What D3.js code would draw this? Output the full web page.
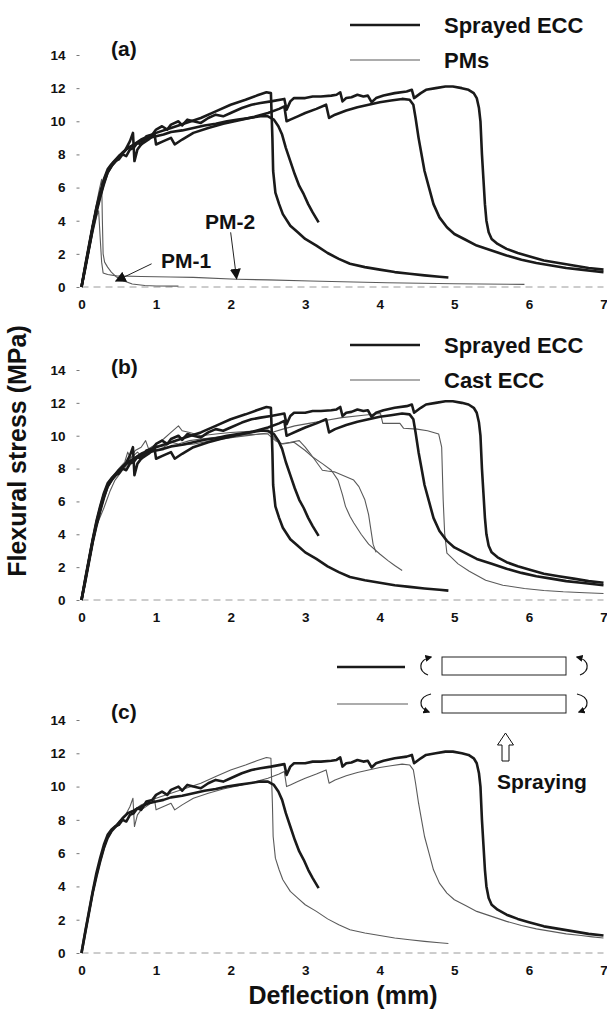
<!DOCTYPE html>
<html><head><meta charset="utf-8">
<script src="https://cdn.jsdelivr.net/npm/d3@7"></script>
<style>
html,body{margin:0;padding:0;background:#fff;}
svg{display:block;font-family:"Liberation Sans",Arial,sans-serif;}
</style></head>
<body><svg id="chart" width="607" height="1014"></svg>
<script>
// ---------- DATA ----------
const xTicks = [0,1,2,3,4,5,6,7];
const yTicks = [0,2,4,6,8,10,12,14];

// Sprayed ECC specimens (deflection mm, flexural stress MPa)
const sprayed1 = [[0,0],[0.05,1.2],[0.1,2.4],[0.15,3.6],[0.2,4.7],[0.25,5.6],[0.3,6.4],[0.35,7.0],[0.42,7.5],[0.5,7.9],[0.6,8.3],[0.7,8.6],[0.8,8.9],[0.9,9.1],[1.0,9.3],[1.2,9.6],[1.4,9.9],[1.6,10.2],[1.8,10.6],[2.0,11.0],[2.2,11.3],[2.35,11.55],[2.48,11.75],[2.54,11.7],[2.56,9.0],[2.57,7.0],[2.6,5.7],[2.65,5.0],[2.7,4.4],[2.8,3.7],[2.9,3.3],[3.0,2.9],[3.15,2.5],[3.3,2.05],[3.45,1.7],[3.6,1.4],[3.8,1.2],[4.0,1.05],[4.2,0.9],[4.4,0.8],[4.6,0.7],[4.8,0.62],[4.92,0.57]];
const sprayed2 = [[0,0],[0.05,1.2],[0.1,2.4],[0.15,3.6],[0.2,4.6],[0.25,5.5],[0.3,6.3],[0.35,6.9],[0.4,7.3],[0.48,7.7],[0.55,8.1],[0.62,8.4],[0.7,8.55],[0.8,8.8],[0.9,9.0],[1.0,9.1],[1.1,9.2],[1.2,9.35],[1.35,9.45],[1.5,9.6],[1.65,9.75],[1.8,9.85],[1.95,10.0],[2.1,10.1],[2.25,10.2],[2.4,10.3],[2.5,10.3],[2.58,10.1],[2.64,9.7],[2.69,9.2],[2.74,8.4],[2.8,7.6],[2.86,6.8],[2.92,6.1],[2.98,5.6],[3.04,5.0],[3.1,4.5],[3.18,3.9]];
const sprayed3 = [[0,0],[0.05,1.1],[0.1,2.3],[0.15,3.5],[0.2,4.5],[0.25,5.4],[0.3,6.2],[0.35,6.9],[0.42,7.4],[0.5,7.8],[0.58,8.2],[0.65,8.8],[0.69,9.3],[0.71,7.6],[0.75,8.3],[0.8,8.6],[0.9,8.9],[0.98,9.2],[1.0,8.6],[1.1,8.8],[1.2,9.0],[1.25,8.6],[1.35,8.9],[1.5,9.3],[1.7,9.6],[1.9,9.85],[2.1,10.05],[2.3,10.25],[2.5,10.5],[2.65,10.75],[2.72,10.9],[2.75,10.0],[2.8,10.1],[2.9,10.3],[3.0,10.5],[3.15,10.75],[3.28,11.0],[3.32,10.2],[3.4,10.4],[3.55,10.65],[3.7,10.85],[3.85,11.0],[4.0,11.15],[4.15,11.25],[4.3,11.35],[4.4,11.3],[4.45,11.0],[4.48,10.2],[4.52,9.0],[4.56,8.0],[4.6,7.0],[4.66,6.0],[4.72,5.0],[4.8,4.2],[4.9,3.6],[5.0,3.2],[5.15,2.85],[5.3,2.5],[5.5,2.2],[5.7,1.9],[5.9,1.65],[6.1,1.45],[6.3,1.3],[6.5,1.15],[6.7,1.05],[6.85,0.97],[7.0,0.9]];
const sprayed4 = [[0,0],[0.05,1.3],[0.1,2.5],[0.15,3.7],[0.2,4.8],[0.25,5.7],[0.3,6.5],[0.35,7.1],[0.4,7.4],[0.45,7.6],[0.5,7.7],[0.55,8.0],[0.6,7.9],[0.65,8.3],[0.7,8.4],[0.75,8.7],[0.8,8.6],[0.87,9.1],[0.95,9.2],[1.0,9.5],[1.08,9.7],[1.15,9.5],[1.2,9.8],[1.3,10.0],[1.35,9.75],[1.42,10.1],[1.5,10.0],[1.6,9.9],[1.7,10.2],[1.8,10.4],[1.9,10.3],[2.0,10.5],[2.15,10.8],[2.28,11.0],[2.4,11.1],[2.54,11.2],[2.72,11.35],[2.75,10.7],[2.8,11.2],[2.85,11.4],[3.0,11.4],[3.1,11.5],[3.21,11.5],[3.35,11.55],[3.42,11.6],[3.47,11.75],[3.5,11.2],[3.55,11.4],[3.62,11.45],[3.7,11.6],[3.78,11.5],[3.84,11.55],[3.89,11.15],[3.95,11.4],[4.05,11.55],[4.2,11.7],[4.36,11.8],[4.43,11.9],[4.46,11.4],[4.55,11.7],[4.62,11.9],[4.75,12.0],[4.88,12.1],[4.98,12.1],[5.1,12.0],[5.19,11.9],[5.26,11.7],[5.3,11.4],[5.33,10.8],[5.35,10.0],[5.37,8.0],[5.39,6.5],[5.41,5.0],[5.43,4.0],[5.46,3.3],[5.5,2.9],[5.58,2.6],[5.7,2.3],[5.85,2.05],[6.0,1.85],[6.2,1.6],[6.4,1.45],[6.6,1.3],[6.8,1.15],[7.0,1.05]];

// Plain mortar specimens
const pm1 = [[0,0],[0.05,1.2],[0.1,2.5],[0.15,3.8],[0.2,5.0],[0.24,5.9],[0.27,6.5],[0.28,4.0],[0.29,2.0],[0.31,1.5],[0.35,1.2],[0.4,0.9],[0.47,0.6],[0.55,0.4],[0.68,0.18],[0.85,0.09],[1.0,0.06],[1.3,0.05]];
const pm2 = [[0,0],[0.05,1.0],[0.1,2.1],[0.15,3.2],[0.2,4.2],[0.23,4.6],[0.25,3.0],[0.27,1.5],[0.29,0.85],[0.35,0.75],[0.47,0.67],[0.8,0.63],[1.2,0.6],[1.5,0.58],[2.08,0.47],[2.5,0.43],[3.07,0.36],[3.5,0.32],[4.1,0.26],[5.0,0.2],[5.94,0.16]];

// Cast ECC specimens
const cast1 = [[0,0],[0.05,1.2],[0.1,2.4],[0.15,3.6],[0.2,4.7],[0.25,5.6],[0.3,6.4],[0.35,7.0],[0.42,7.5],[0.5,8.0],[0.58,8.4],[0.62,9.0],[0.66,8.6],[0.72,9.1],[0.8,9.3],[0.86,9.7],[0.9,9.2],[1.0,9.5],[1.1,9.8],[1.2,10.2],[1.3,10.6],[1.35,10.3],[1.45,10.2],[1.6,10.0],[1.8,10.1],[2.0,10.2],[2.2,10.25],[2.4,10.3],[2.5,10.3],[2.58,9.9],[2.66,9.5],[2.8,9.6],[2.92,9.7],[3.0,9.3],[3.07,8.9],[3.15,8.4],[3.23,7.9],[3.3,7.85],[3.39,7.8],[3.5,7.6],[3.65,7.3],[3.72,6.9],[3.8,6.1],[3.85,5.2],[3.88,4.3],[3.91,3.4],[3.95,2.9]];
const cast2 = [[0,0],[0.05,1.1],[0.1,2.3],[0.15,3.5],[0.2,4.6],[0.25,5.5],[0.3,6.3],[0.35,6.9],[0.45,7.6],[0.55,8.2],[0.65,8.6],[0.75,9.0],[0.82,8.7],[0.9,9.2],[1.0,9.4],[1.1,9.3],[1.2,9.6],[1.3,9.5],[1.45,9.7],[1.6,9.8],[1.8,9.9],[2.0,10.0],[2.2,10.05],[2.4,10.1],[2.5,10.1],[2.6,9.7],[2.7,9.5],[2.85,9.6],[3.0,9.1],[3.1,8.7],[3.23,8.3],[3.35,7.9],[3.44,7.3],[3.5,6.4],[3.54,5.7],[3.6,5.1],[3.65,4.7],[3.75,4.0],[3.85,3.4],[4.0,2.8],[4.11,2.4],[4.2,2.1],[4.3,1.8]];
const cast3 = [[0,0],[0.05,1.2],[0.1,2.4],[0.15,3.6],[0.2,4.5],[0.3,5.6],[0.38,6.6],[0.45,7.3],[0.55,7.9],[0.65,8.4],[0.75,8.8],[0.85,9.0],[1.0,9.1],[1.15,9.3],[1.3,9.4],[1.51,9.5],[1.75,9.7],[2.03,9.9],[2.3,10.05],[2.55,10.2],[2.7,10.4],[2.86,10.6],[3.05,10.75],[3.23,10.9],[3.49,11.1],[3.78,11.25],[4.01,11.35],[4.04,10.75],[4.27,10.75],[4.32,10.45],[4.5,10.4],[4.64,10.3],[4.79,10.1],[4.83,9.3],[4.85,6.1],[4.87,4.05],[4.9,2.85],[5.05,2.2],[5.2,1.75],[5.42,1.2],[5.65,0.9],[5.94,0.7],[6.2,0.58],[6.46,0.5],[6.75,0.44],[7.0,0.4]];

// ---------- LAYOUT ----------
const svg = d3.select("#chart");
const x = d3.scaleLinear().domain([0,7]).range([81.5,603.5]);
const panels = [
  {id:"a", y0:287, y14:55, label:"(a)", labelY:56},
  {id:"b", y0:600, y14:370, label:"(b)", labelY:374},
  {id:"c", y0:953, y14:720, label:"(c)", labelY:719}
];
const THICK = {w:2.6, c:"#1a1a1a"};
const THIN = {w:1.1, c:"#5a5a5a"};
const FONT = "Liberation Sans, Arial, sans-serif";

panels.forEach(p => {
  p.y = d3.scaleLinear().domain([0,14]).range([p.y0,p.y14]);
  const g = svg.append("g");
  g.append("line").attr("x1",x(0)).attr("x2",x(7)).attr("y1",p.y(0)).attr("y2",p.y(0))
    .attr("stroke","#9a9a9a").attr("stroke-width",1).attr("stroke-dasharray","7,5");
  const ya = d3.axisLeft(p.y).tickValues(yTicks).tickFormat(d3.format("d")).tickSize(3).tickPadding(11);
  const gy = g.append("g").attr("transform",`translate(${x(0)-2},0)`).call(ya);
  gy.select(".domain").remove();
  gy.selectAll(".tick line").attr("stroke","#777");
  gy.selectAll(".tick text").attr("font-size",13.5).attr("font-weight","bold").attr("fill","#111")
    .attr("font-family",FONT);
  const xa = d3.axisBottom(x).tickValues(xTicks).tickFormat(d3.format("d")).tickSize(0).tickPadding(12);
  const gx = g.append("g").attr("transform",`translate(0,${p.y(0)})`).call(xa);
  gx.select(".domain").remove();
  gx.selectAll(".tick text").attr("font-size",13.5).attr("font-weight","bold").attr("fill","#111")
    .attr("font-family",FONT);
  g.append("text").attr("x",111).attr("y",p.labelY).text(p.label)
    .attr("font-size",21).attr("font-weight","bold").attr("fill","#111");
  p.g = g;
});

function drawCurve(p, data, style){
  const line = d3.line().x(d=>x(d[0])).y(d=>p.y(d[1]));
  p.g.append("path").datum(data).attr("d",line).attr("fill","none")
    .attr("stroke",style.c).attr("stroke-width",style.w).attr("stroke-linejoin","round");
}

const pa = panels[0];
[pm1,pm2].forEach(d=>drawCurve(pa,d,THIN));
[sprayed1,sprayed2,sprayed3,sprayed4].forEach(d=>drawCurve(pa,d,THICK));
const pb = panels[1];
[cast1,cast2,cast3].forEach(d=>drawCurve(pb,d,THIN));
[sprayed1,sprayed2,sprayed3,sprayed4].forEach(d=>drawCurve(pb,d,THICK));
const pc = panels[2];
[sprayed1,sprayed3].forEach(d=>drawCurve(pc,d,THIN));
[sprayed2,sprayed4].forEach(d=>drawCurve(pc,d,THICK));

// ---------- ANNOTATIONS ----------
const defs = svg.append("defs");
defs.append("marker").attr("id","tri").attr("viewBox","0 0 10 10").attr("refX",9).attr("refY",5)
  .attr("markerWidth",11).attr("markerHeight",11).attr("markerUnits","userSpaceOnUse").attr("orient","auto")
  .append("path").attr("d","M0,0 L10,5 L0,10 Z").attr("fill","#111");
defs.append("marker").attr("id","tri2").attr("viewBox","0 0 10 10").attr("refX",8).attr("refY",5)
  .attr("markerWidth",7).attr("markerHeight",7).attr("markerUnits","userSpaceOnUse").attr("orient","auto")
  .append("path").attr("d","M0,0 L10,5 L0,10 Z").attr("fill","#111");

const pmAnn = [
  {text:"PM-1", tx:161, ty:268, from:[0.94,1.4], to:[0.46,0.36]},
  {text:"PM-2", tx:205, ty:229, from:[2.0,3.3], to:[2.08,0.5]}
];
pmAnn.forEach(a=>{
  pa.g.append("line").attr("x1",x(a.from[0])).attr("y1",pa.y(a.from[1]))
    .attr("x2",x(a.to[0])).attr("y2",pa.y(a.to[1]))
    .attr("stroke","#222").attr("stroke-width",1).attr("marker-end","url(#tri)");
  pa.g.append("text").attr("x",a.tx).attr("y",a.ty).text(a.text)
    .attr("font-size",21).attr("font-weight","bold").attr("fill","#111");
});

function legendRow(y, style, label){
  svg.append("line").attr("x1",350).attr("x2",420).attr("y1",y).attr("y2",y)
    .attr("stroke",style.c).attr("stroke-width",style.w);
  svg.append("text").attr("x",444).attr("y",y+8).text(label)
    .attr("font-size",22).attr("font-weight","bold").attr("fill","#111");
}
legendRow(25, THICK, "Sprayed ECC");
legendRow(60, THIN, "PMs");
legendRow(345, THICK, "Sprayed ECC");
legendRow(380, THIN, "Cast ECC");

svg.append("line").attr("x1",337).attr("x2",405).attr("y1",667).attr("y2",667)
  .attr("stroke",THICK.c).attr("stroke-width",THICK.w);
svg.append("line").attr("x1",337).attr("x2",408).attr("y1",704).attr("y2",704)
  .attr("stroke",THIN.c).attr("stroke-width",THIN.w);
[657,695].forEach(ry=>{
  svg.append("rect").attr("x",442).attr("y",ry).attr("width",124).attr("height",18)
    .attr("fill","none").attr("stroke","#222").attr("stroke-width",1);
});
const arcs = [
  "M428,675 C418,671 418,660 431,657",
  "M580,675 C590,671 590,660 577,657",
  "M431,694 C418,697 418,708 429,712",
  "M577,694 C590,697 590,708 579,712"
];
arcs.forEach(d=>svg.append("path").attr("d",d).attr("fill","none").attr("stroke","#111")
  .attr("stroke-width",1.2).attr("marker-end","url(#tri2)"));
svg.append("path").attr("d","M502,761 L502,745 L497.5,745 L505.5,733 L513.5,745 L509,745 L509,761 Z")
  .attr("fill","#fff").attr("stroke","#111").attr("stroke-width",1);
svg.append("text").attr("x",497).attr("y",789).text("Spraying")
  .attr("font-size",21).attr("font-weight","bold").attr("fill","#111");

svg.append("text").attr("x",343).attr("y",1004).attr("text-anchor","middle").text("Deflection (mm)")
  .attr("font-size",25).attr("font-weight","bold").attr("fill","#111");
svg.append("text").attr("transform","translate(26,451) rotate(-90)").attr("text-anchor","middle")
  .text("Flexural stress (MPa)").attr("font-size",25).attr("font-weight","bold").attr("fill","#111");
</script></body></html>
